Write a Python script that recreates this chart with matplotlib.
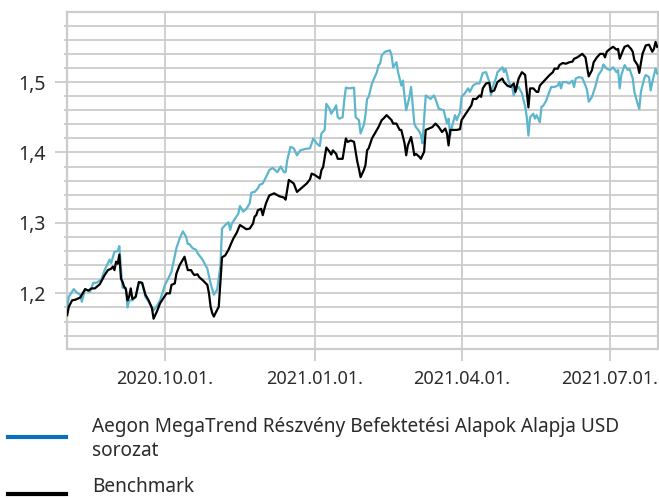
import numpy as np
import matplotlib
matplotlib.use("Agg")
import matplotlib.pyplot as plt
import matplotlib.dates as mdates
from matplotlib.lines import Line2D
from matplotlib.ticker import FixedLocator, FuncFormatter, MultipleLocator

BASE_DATE = "2020-10-01"

fund_day = [-60, -59, -56, -54, -52, -51, -49, -46, -44, -42, -39, -37, -34, -33, -31, -29, -28, -27, -26, -24,
            -23, -22, -20, -18, -16, -14, -12, -10, -7, -5, -3, 0, 2, 4, 7, 9, 11, 13, 14, 15,
            17, 19, 20, 23, 26, 28, 30, 32, 34, 35, 37, 39, 40, 41, 43, 45, 46, 48, 50, 52,
            53, 55, 57, 58, 60, 62, 64, 66, 69, 71, 73, 74, 75, 77, 79, 81, 83, 86, 89, 91,
            93, 95, 96, 98, 99, 101, 102, 104, 105, 106, 107, 109, 110, 111, 113, 116, 117, 119, 120, 122,
            123, 124, 125, 127, 130, 131, 132, 133, 135, 138, 139, 140, 142, 143, 145, 146, 147, 148, 150, 151,
            152, 153, 154, 156, 157, 158, 160, 163, 165, 166, 168, 171, 173, 174, 175, 176, 178, 179, 181, 182,
            184, 186, 187, 189, 191, 193, 195, 197, 198, 199, 200, 201, 203, 204, 207, 208, 209, 211, 212, 213,
            214, 215, 217, 219, 221, 222, 223, 224, 226, 227, 228, 230, 231, 232, 234, 235, 237, 239, 241, 242,
            243, 244, 246, 248, 250, 251, 252, 254, 256, 258, 259, 260, 262, 263, 264, 265, 266, 268, 269, 271,
            273, 274, 275, 277, 278, 279, 280, 282, 284, 285, 287, 288, 290, 291, 292, 294, 295, 297, 298, 299,
            301, 302]
fund_val = [1.180, 1.195, 1.206, 1.201, 1.198, 1.188, 1.206, 1.202, 1.215, 1.215, 1.220, 1.233, 1.248, 1.243, 1.259, 1.260, 1.267, 1.235, 1.208, 1.208,
            1.180, 1.190, 1.190, 1.195, 1.216, 1.214, 1.195, 1.188, 1.176, 1.182, 1.190, 1.212, 1.221, 1.231, 1.264, 1.278, 1.288, 1.280, 1.270, 1.270,
            1.264, 1.262, 1.257, 1.248, 1.235, 1.214, 1.198, 1.205, 1.238, 1.292, 1.297, 1.301, 1.290, 1.299, 1.306, 1.313, 1.324, 1.316, 1.320, 1.328,
            1.343, 1.344, 1.349, 1.354, 1.356, 1.365, 1.375, 1.378, 1.372, 1.380, 1.372, 1.372, 1.389, 1.408, 1.406, 1.396, 1.403, 1.405, 1.406, 1.420,
            1.413, 1.409, 1.427, 1.432, 1.469, 1.462, 1.455, 1.462, 1.467, 1.450, 1.448, 1.450, 1.474, 1.492, 1.491, 1.492, 1.450, 1.446, 1.427, 1.439,
            1.453, 1.476, 1.479, 1.498, 1.514, 1.524, 1.526, 1.538, 1.543, 1.545, 1.538, 1.521, 1.528, 1.514, 1.495, 1.502, 1.479, 1.460, 1.479, 1.493,
            1.467, 1.441, 1.436, 1.430, 1.425, 1.413, 1.481, 1.476, 1.481, 1.476, 1.462, 1.460, 1.441, 1.448, 1.424, 1.436, 1.453, 1.446, 1.457, 1.479,
            1.484, 1.491, 1.486, 1.495, 1.498, 1.498, 1.513, 1.514, 1.507, 1.500, 1.481, 1.493, 1.505, 1.514, 1.521, 1.514, 1.519, 1.500, 1.495, 1.493,
            1.481, 1.488, 1.493, 1.484, 1.465, 1.450, 1.424, 1.450, 1.455, 1.448, 1.453, 1.443, 1.465, 1.466, 1.474, 1.481, 1.493, 1.493, 1.495, 1.500,
            1.491, 1.500, 1.500, 1.498, 1.502, 1.493, 1.505, 1.507, 1.506, 1.495, 1.488, 1.472, 1.479, 1.486, 1.493, 1.502, 1.510, 1.517, 1.525, 1.519,
            1.517, 1.519, 1.521, 1.514, 1.517, 1.491, 1.510, 1.524, 1.517, 1.519, 1.505, 1.486, 1.469, 1.462, 1.486, 1.505, 1.510, 1.507, 1.488, 1.500,
            1.519, 1.512]

bench_day = [-60, -59, -57, -55, -52, -49, -47, -45, -43, -40, -37, -35, -33, -32, -31, -30, -29, -28, -27, -26,
             -25, -24, -23, -22, -21, -20, -18, -16, -14, -12, -10, -8, -7, -5, -3, -1, 1, 3, 4, 6,
             7, 9, 12, 13, 14, 16, 17, 18, 20, 21, 23, 26, 27, 28, 29, 30, 31, 33, 34, 35,
             37, 39, 41, 42, 44, 46, 48, 50, 52, 54, 55, 56, 57, 59, 60, 61, 62, 64, 67, 70,
             73, 74, 76, 79, 81, 84, 87, 89, 90, 92, 95, 96, 97, 99, 101, 102, 103, 105, 106, 109,
             111, 112, 114, 116, 118, 119, 120, 122, 123, 124, 125, 127, 130, 131, 133, 134, 136, 139, 140, 142,
             144, 145, 147, 148, 149, 151, 152, 153, 154, 156, 157, 159, 160, 162, 164, 166, 168, 170, 172, 173,
             174, 175, 177, 179, 181, 182, 184, 186, 188, 189, 191, 193, 194, 195, 197, 199, 200, 202, 204, 207,
             208, 210, 212, 214, 215, 217, 219, 221, 222, 223, 224, 226, 228, 229, 230, 232, 234, 236, 238, 239,
             241, 242, 244, 246, 248, 250, 251, 253, 256, 258, 259, 260, 262, 263, 265, 267, 269, 270, 271, 273,
             275, 277, 278, 279, 281, 282, 284, 286, 287, 288, 290, 291, 292, 293, 295, 297, 299, 300, 301, 302]
bench_val = [1.169, 1.181, 1.190, 1.191, 1.194, 1.206, 1.204, 1.207, 1.207, 1.213, 1.226, 1.233, 1.235, 1.238, 1.233, 1.245, 1.242, 1.255, 1.221, 1.216,
             1.209, 1.206, 1.190, 1.195, 1.207, 1.192, 1.195, 1.216, 1.215, 1.198, 1.190, 1.179, 1.164, 1.174, 1.186, 1.193, 1.200, 1.200, 1.212, 1.214,
             1.228, 1.240, 1.252, 1.242, 1.233, 1.233, 1.229, 1.226, 1.227, 1.223, 1.219, 1.212, 1.200, 1.181, 1.172, 1.167, 1.172, 1.181, 1.216, 1.251,
             1.254, 1.262, 1.273, 1.278, 1.286, 1.297, 1.294, 1.291, 1.292, 1.299, 1.309, 1.311, 1.318, 1.320, 1.311, 1.320, 1.328, 1.339, 1.342, 1.338,
             1.336, 1.333, 1.361, 1.356, 1.344, 1.350, 1.356, 1.362, 1.370, 1.368, 1.363, 1.375, 1.379, 1.407, 1.401, 1.397, 1.403, 1.398, 1.391, 1.391,
             1.420, 1.415, 1.417, 1.415, 1.387, 1.377, 1.365, 1.375, 1.382, 1.403, 1.406, 1.420, 1.432, 1.436, 1.446, 1.448, 1.453, 1.446, 1.441, 1.441,
             1.432, 1.432, 1.413, 1.396, 1.410, 1.422, 1.410, 1.396, 1.398, 1.394, 1.391, 1.401, 1.432, 1.434, 1.436, 1.441, 1.436, 1.429, 1.434, 1.427,
             1.410, 1.432, 1.432, 1.432, 1.433, 1.446, 1.453, 1.460, 1.467, 1.476, 1.476, 1.481, 1.479, 1.491, 1.498, 1.499, 1.486, 1.488, 1.500, 1.505,
             1.500, 1.495, 1.493, 1.498, 1.486, 1.505, 1.514, 1.510, 1.486, 1.464, 1.491, 1.491, 1.486, 1.486, 1.495, 1.500, 1.505, 1.510, 1.514, 1.519,
             1.519, 1.524, 1.527, 1.526, 1.528, 1.529, 1.533, 1.535, 1.540, 1.535, 1.521, 1.508, 1.517, 1.528, 1.535, 1.540, 1.540, 1.535, 1.543, 1.547,
             1.550, 1.546, 1.547, 1.533, 1.545, 1.550, 1.552, 1.547, 1.543, 1.531, 1.524, 1.513, 1.527, 1.540, 1.552, 1.553, 1.543, 1.547, 1.557, 1.550]

x_ticks = ["2020-10-01", "2021-01-01", "2021-04-01", "2021-07-01"]
y_major = [1.2, 1.3, 1.4, 1.5]
fund_label = "Aegon MegaTrend Részvény Befektetési Alapok Alapja USD\nsorozat"
bench_label = "Benchmark"

FONT = ["Noto Sans", "DejaVu Sans"]
plt.rcParams["font.family"] = FONT
TXT = "#2b2b2b"
GRID = "#cccccc"
FUND_C = "#5db6cd"
FUND_LEG = "#0a6fbd"

base = np.datetime64(BASE_DATE)
fund_dates = base + np.array(fund_day).astype("timedelta64[D]")
bench_dates = base + np.array(bench_day).astype("timedelta64[D]")

fig = plt.figure(figsize=(6.59, 4.98), dpi=100)
ax = fig.add_axes([0.1012, 0.2992, 0.8968, 0.6761])

ax.plot(fund_dates, fund_val, color=FUND_C, lw=1.6, zorder=3)
ax.plot(bench_dates, bench_val, color="black", lw=1.6, zorder=4)

base_num = mdates.date2num(base)
ax.set_xlim(base_num - 60.3, base_num + 302.3)
ax.set_ylim(1.121, 1.599)

ax.xaxis.set_major_locator(FixedLocator([mdates.date2num(np.datetime64(d)) for d in x_ticks]))
ax.xaxis.set_major_formatter(mdates.DateFormatter("%Y.%m.%d."))
ax.yaxis.set_major_locator(FixedLocator(y_major))
ax.yaxis.set_minor_locator(MultipleLocator(0.02))
ax.yaxis.set_major_formatter(FuncFormatter(lambda v, p: f"{v:.1f}".replace(".", ",")))

ax.grid(True, which="major", axis="x", color=GRID, lw=1.3, zorder=0)
ax.grid(True, which="both", axis="y", color=GRID, lw=1.3, zorder=0)
ax.set_axisbelow(True)

for s in ax.spines.values():
    s.set_color(GRID)
    s.set_linewidth(1.6)

ax.tick_params(axis="y", which="major", length=8.6, width=1.3, color=GRID, labelsize=14, labelcolor=TXT, pad=6.5)
ax.tick_params(axis="y", which="minor", length=2.5, width=1.3, color=GRID)
ax.tick_params(axis="x", which="major", length=8.6, width=1.3, color=GRID, labelsize=13, labelcolor=TXT, pad=6.5)

# legend
fig.add_artist(Line2D([8 / 659, 65.7 / 659], [1 - 436.7 / 498] * 2, color=FUND_LEG, lw=3, transform=fig.transFigure))
fig.add_artist(Line2D([8 / 659, 65.7 / 659], [1 - 494 / 498] * 2, color="black", lw=3, transform=fig.transFigure))
fig.text(91.7 / 659, 1 - 439 / 498, fund_label, ha="left", va="center", fontsize=13.7, color=TXT, linespacing=1.22)
fig.text(91.7 / 659, 0.6 / 498, bench_label, ha="left", va="bottom", fontsize=13.7, color=TXT)

fig.savefig("out.png", dpi=100)
